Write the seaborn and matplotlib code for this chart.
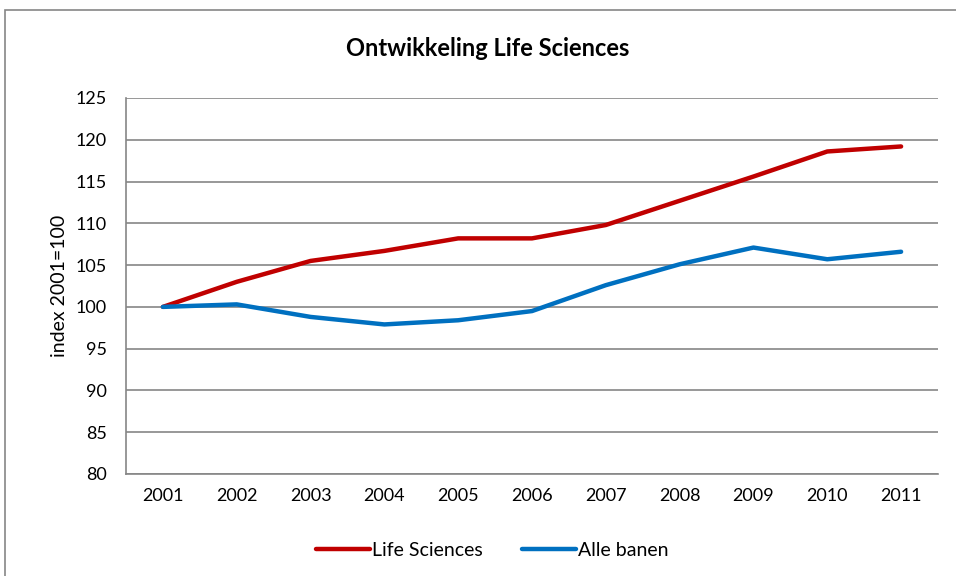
import pandas as pd
import seaborn as sns
import matplotlib.pyplot as plt
from matplotlib.patches import Rectangle

YEARS = ["2001", "2002", "2003", "2004", "2005", "2006", "2007", "2008", "2009", "2010", "2011"]
LIFE_SCIENCES = [100, 103.0, 105.5, 106.7, 108.2, 108.2, 109.8, 112.7, 115.6, 118.6, 119.2]
ALLE_BANEN = [100, 100.3, 98.8, 97.9, 98.4, 99.5, 102.6, 105.1, 107.1, 105.7, 106.6]
SERIES = ["Life Sciences", "Alle banen"]
COLORS = ["#C00000", "#0070C0"]

df = pd.concat([
    pd.DataFrame({"Jaar": YEARS, "index": LIFE_SCIENCES, "Reeks": SERIES[0]}),
    pd.DataFrame({"Jaar": YEARS, "index": ALLE_BANEN, "Reeks": SERIES[1]}),
])

sns.set_style("white")
plt.rcParams["font.family"] = ["Lato", "DejaVu Sans"]
plt.rcParams["text.color"] = "black"
plt.rcParams["xtick.color"] = "black"
plt.rcParams["ytick.color"] = "black"
plt.rcParams["axes.labelcolor"] = "black"

fig = plt.figure(figsize=(9.56, 5.76), dpi=100)
ax = fig.add_axes([126 / 956, 1 - 474 / 576, (938 - 126) / 956, (474 - 98) / 576])

sns.lineplot(data=df, x="Jaar", y="index", hue="Reeks", palette=COLORS,
             linewidth=3.2, ax=ax, sort=False, solid_capstyle="round")

grid = "#868686"
ax.set_ylim(80, 125)
ax.set_yticks(range(80, 126, 5))
ax.set_xlim(-0.5, len(YEARS) - 0.5)
ax.set_xticks([i - 0.5 for i in range(len(YEARS) + 1)], minor=False)
ax.set_xticklabels([])
ax.set_xticks(range(len(YEARS)), minor=True)
ax.set_xticklabels(YEARS, minor=True)
ax.tick_params(axis="x", which="major", direction="out", length=6, color=grid, width=1)
ax.tick_params(axis="x", which="minor", length=0, pad=10, labelsize=13)
ax.tick_params(axis="y", direction="out", length=5, color=grid, width=1, labelsize=13, pad=9)
ax.yaxis.grid(True, color=grid, linewidth=1.2)
ax.set_axisbelow(True)
for s in ["top", "right"]:
    ax.spines[s].set_visible(False)
for s in ["left", "bottom"]:
    ax.spines[s].set_color(grid)
    ax.spines[s].set_linewidth(1.2)

ax.set_xlabel("")
ax.set_ylabel("index 2001=100", fontsize=14, labelpad=5)

fig.text(488 / 956, 1 - 48 / 576, "Ontwikkeling Life Sciences", ha="center", va="center",
         fontsize=17, fontweight="bold")

handles, labels = ax.get_legend_handles_labels()
ax.legend(handles, labels, loc="center", bbox_to_anchor=(492 / 956, 1 - 550 / 576),
          bbox_transform=fig.transFigure, ncol=2, frameon=False, fontsize=14,
          handlelength=2.8, handletextpad=0.1, columnspacing=2.0)

fig.patches.append(Rectangle((5 / 956, -0.1), 1.2, 1 - 10 / 576 + 0.1, transform=fig.transFigure,
                             fill=False, edgecolor=grid, linewidth=1.2))

fig.savefig("out.png", dpi=100)
